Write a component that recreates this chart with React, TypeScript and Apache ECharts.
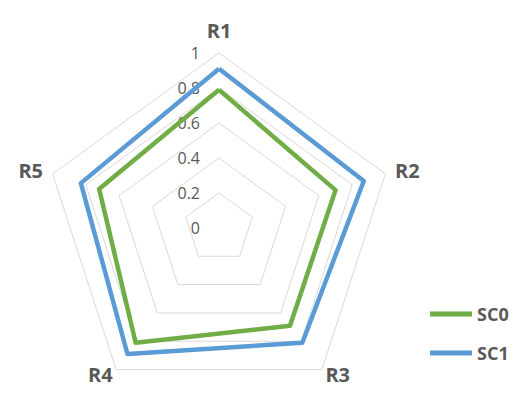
import React, { useEffect, useRef } from "react";
import * as echarts from "echarts";

const categories = ["R1", "R2", "R3", "R4", "R5"];
const seriesNames = ["SC0", "SC1"];
const sc0Values = [0.79, 0.7, 0.69, 0.81, 0.72];
const sc1Values = [0.91, 0.87, 0.81, 0.89, 0.83];
const colors = ["#70AD47", "#5B9BD5"];

const FONT = "'Open Sans', 'Noto Sans', sans-serif";

// ECharts lays radar indicators counter-clockwise; reorder so they run clockwise.
const order = categories.map((_, i) => (i === 0 ? 0 : categories.length - i));
const reorder = (arr: number[]) => order.map((k) => arr[k]);
const nameGaps: Record<string, number> = { R1: 13, R2: 10, R3: 6, R4: 6, R5: 10 };

export default function App() {
  const ref = useRef<HTMLDivElement>(null);
  useEffect(() => {
    if (!ref.current) return;
    const chart = echarts.init(ref.current, undefined, { renderer: "svg" });
    chart.setOption({
      animation: false,
      backgroundColor: "#ffffff",
      legend: {
        data: seriesNames,
        orient: "vertical",
        left: 425,
        top: 300,
        icon: "rect",
        itemWidth: 42,
        itemHeight: 5,
        itemGap: 21,
        textStyle: { color: "#595959", fontSize: 18, fontWeight: "bold", fontFamily: FONT },
      },
      radar: {
        center: [219, 228],
        radius: 175,
        startAngle: 90,
        splitNumber: 5,
        shape: "polygon",
        nameGap: 10,
        axisName: { color: "#595959", fontSize: 20, fontWeight: "bold", fontFamily: FONT },
        indicator: order.map((k, i) => ({
          name: categories[k],
          min: 0,
          max: 1,
          nameGap: nameGaps[categories[k]],
          ...(i === 0
            ? {
                axisLabel: {
                  show: true,
                  color: "#595959",
                  fontSize: 16,
                  fontFamily: FONT,
                  margin: 19,
                },
              }
            : {}),
        })),
        splitLine: { lineStyle: { color: "#D9D9D9", width: 1 } },
        splitArea: { show: false },
        axisLine: { show: false },
        axisTick: { show: false },
        axisLabel: { show: false },
      },
      series: [
        {
          type: "radar",
          symbol: "none",
          data: [
            { name: seriesNames[0], value: reorder(sc0Values), lineStyle: { color: colors[0], width: 4.5 }, itemStyle: { color: colors[0] } },
            { name: seriesNames[1], value: reorder(sc1Values), lineStyle: { color: colors[1], width: 4.5 }, itemStyle: { color: colors[1] } },
          ],
        },
      ],
    });
    return () => chart.dispose();
  }, []);
  return <div ref={ref} style={{ width: 520, height: 394, margin: -8 }} />;
}
